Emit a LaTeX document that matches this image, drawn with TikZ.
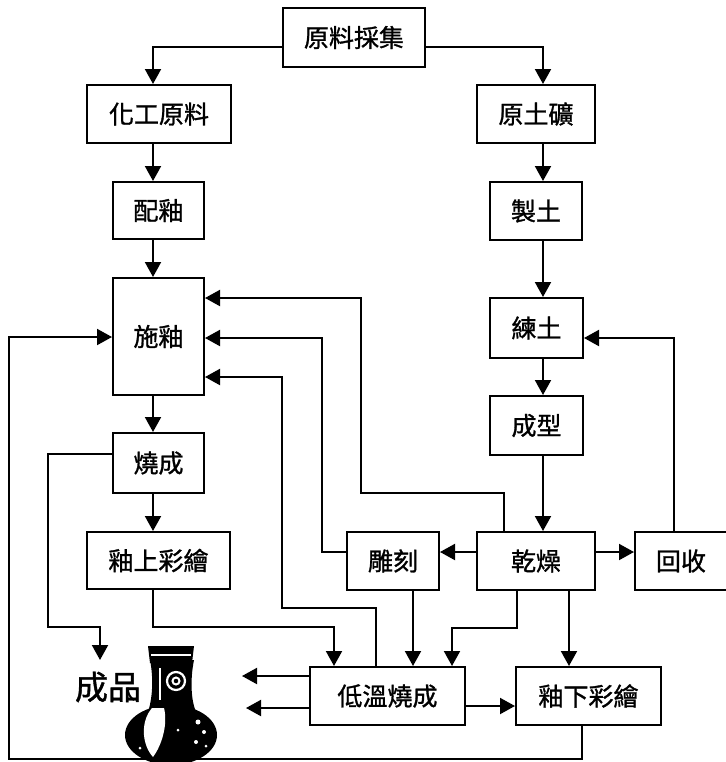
\documentclass[tikz,border=0pt]{standalone}
\usepackage{fontspec}
\newfontfamily\cjk{Noto Sans CJK TC}[FakeBold=1.2]
\usetikzlibrary{arrows.meta}
\begin{document}
\begin{tikzpicture}[x=0.5pt,y=-0.5pt,
  box/.style={draw,line width=1pt,inner sep=0pt,font=\cjk\fontsize{12.5}{14}\selectfont},
  bx/.style 2 args={box,minimum width=#1*0.5pt,minimum height=#2*0.5pt},
  arr/.style={line width=1pt,-{Triangle[width=8pt,length=7.5pt]}},
  lbl/.style={inner sep=0pt,font=\cjk\fontsize{16.5}{18}\selectfont}]
\useasboundingbox (0,0) rectangle (725,762);
\fill[white] (0,0) rectangle (725,762);

% boxes
\node[bx={142}{59}] (yl) at (354,37.5) {原料採集};
\node[bx={144}{58}] (hg) at (159,114) {化工原料};
\node[bx={91}{57}] (py) at (158.5,210.5) {配釉};
\node[bx={91}{117}] (sy) at (158.5,336.5) {施釉};
\node[bx={91}{60}] (sc) at (158.5,463) {燒成};
\node[bx={143}{57}] (ys) at (158.5,560.5) {釉上彩繪};
\node[bx={118}{58}] (ytk) at (536,114) {原土礦};
\node[bx={92}{58}] (zt) at (536,211) {製土};
\node[bx={93}{60}] (lt) at (536.5,328) {練土};
\node[bx={93}{59}] (cx) at (536.5,425.5) {成型};
\node[bx={118}{58}] (gz) at (536,561) {乾燥};
\node[bx={92}{58}] (dk) at (393,561) {雕刻};
\node[bx={92}{58}] (hs) at (681,561) {回收};
\node[bx={155}{58}] (dw) at (387.5,696) {低溫燒成};
\node[bx={145}{58}] (yx) at (588.5,696) {釉下彩繪};
\node[lbl] (cp) at (108,687) {成品};

\coordinate (cL) at (153,0);
\coordinate (cR) at (543,0);
\coordinate (cpin) at (100,660);
\coordinate (vin1) at (242,676);
\coordinate (vin2) at (246,708);

% main flow
\draw[arr] (yl.west |- 0,47) -| (hg.north -| cL);
\draw[arr] (yl.east |- 0,47) -| (ytk.north -| cR);
\draw[arr] (hg.south -| cL) -- (py.north -| cL);
\draw[arr] (py.south -| cL) -- (sy.north -| cL);
\draw[arr] (sy.south -| cL) -- (sc.north -| cL);
\draw[arr] (sc.south -| cL) -- (ys.north -| cL);
\draw[arr] (ytk.south -| cR) -- (zt.north -| cR);
\draw[arr] (zt.south -| cR) -- (lt.north -| cR);
\draw[arr] (lt.south -| cR) -- (cx.north -| cR);
\draw[arr] (cx.south -| cR) -- (gz.north -| cR);

\draw[arr] (gz.west |- 0,552) -- (dk.east |- 0,552);
\draw[arr] (gz.east |- 0,552) -- (hs.west |- 0,552);
\draw[arr] (hs.north -| 674,0) |- (lt.east |- 0,338);

\draw[arr] (sc.west |- 0,454) -| (48,627) -| (cpin);
\draw[arr] (ys.south -| cL) |- (334,627) -- (dw.north -| 334,0);
\draw[arr] (dk.south -| 413,0) -- (dw.north -| 413,0);
\draw[arr] (gz.south -| 517,0) |- (452,628) -- (dw.north -| 452,0);
\draw[arr] (gz.south -| 569,0) -- (yx.north -| 569,0);
\draw[arr] (dw.east |- 0,706) -- (yx.west |- 0,706);
\draw[arr] (dw.west |- 0,676) -- (vin1);
\draw[arr] (dw.west |- 0,708) -- (vin2);

% loops back to 施釉
\draw[arr] (gz.north -| 504,0) |- (361,493) |- (sy.east |- 0,298);
\draw[arr] (dk.west |- 0,552) -| (322,338) -- (sy.east |- 0,338);
\draw[arr] (dw.north -| 376,0) |- (282,608) |- (sy.east |- 0,377);
\draw[arr] (yx.south -| 582,0) |- (9,759) |- (sy.west |- 0,337);

% vase
\fill[black] (171,735) ellipse [x radius=46, y radius=30];
\fill[black] (150,660) .. controls (154,680) and (152,700) .. (148,712)
   -- (196,712) .. controls (191,700) and (190,680) .. (194,660) -- cycle;
\fill[black] (148,646) -- (194,646) -- (192,663) -- (150,663) -- cycle;
\draw[white,line width=0.6pt] (151,655) -- (191,655);
\draw[white,line width=1.1pt] (176,681) circle [radius=9];
\draw[white,line width=1pt] (176,681) circle [radius=3.5];
\draw[white,line width=0.7pt] (160,668) -- (160,700);
\fill[white] (152,708) .. controls (140,722) and (142,745) .. (153,757)
   .. controls (162,745) and (168,724) .. (164,708) -- cycle;
\fill[white] (198,722) circle [radius=2.5];
\fill[white] (204,732) circle [radius=2];
\fill[white] (196,742) circle [radius=2];
\fill[white] (206,746) circle [radius=1.5];
\fill[white] (178,730) circle [radius=1.5];
\fill[white] (140,748) circle [radius=1.5];
\draw[black,line width=1pt] (134,700) arc [start angle=120, end angle=190, radius=12];
\end{tikzpicture}
\end{document}
